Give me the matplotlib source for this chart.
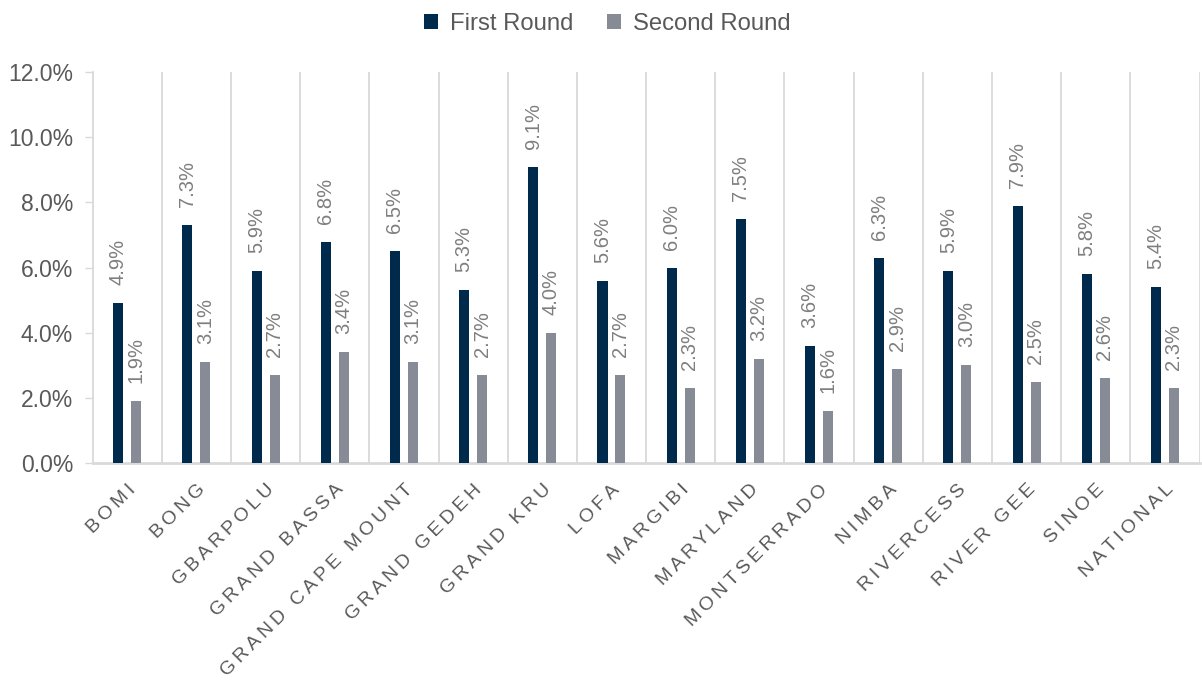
import numpy as np
import matplotlib
matplotlib.use('Agg')
from matplotlib import pyplot as plt
from matplotlib.ticker import FuncFormatter

counties = ['BOMI', 'BONG', 'GBARPOLU', 'GRAND BASSA', 'GRAND CAPE MOUNT', 'GRAND GEDEH',
            'GRAND KRU', 'LOFA', 'MARGIBI', 'MARYLAND', 'MONTSERRADO', 'NIMBA',
            'RIVERCESS', 'RIVER GEE', 'SINOE', 'NATIONAL']
first_round = [4.9, 7.3, 5.9, 6.8, 6.5, 5.3, 9.1, 5.6, 6.0, 7.5, 3.6, 6.3, 5.9, 7.9, 5.8, 5.4]
second_round = [1.9, 3.1, 2.7, 3.4, 3.1, 2.7, 4.0, 2.7, 2.3, 3.2, 1.6, 2.9, 3.0, 2.5, 2.6, 2.3]

plt.rcParams['font.family'] = ['Liberation Sans', 'DejaVu Sans']

navy = '#002a4b'
grey = '#868b96'
text_grey = '#595959'
label_grey = '#7f7f7f'
grid_grey = '#d9d9d9'

fig = plt.figure(figsize=(12.02, 6.81), dpi=100)
ax = fig.add_axes([0.077, 0.32, 0.921, 0.574])

x = np.arange(len(counties))
w = 0.145
off = 0.13
b1 = ax.bar(x - off, first_round, w, color=navy, label='First Round', zorder=3)
b2 = ax.bar(x + off, second_round, w, color=grey, label='Second Round', zorder=3)

for bars, vals in ((b1, first_round), (b2, second_round)):
    for bar, v in zip(bars, vals):
        ax.annotate('%.1f%%' % v, (bar.get_x() + bar.get_width() / 2, v),
                    xytext=(0, 13), textcoords='offset points',
                    rotation=90, ha='center', va='bottom',
                    fontsize=14.5, color=label_grey)

ax.set_xlim(-0.5, len(counties) - 0.5)
ax.set_ylim(0, 12)
ax.set_yticks(np.arange(0, 12.1, 2))
ax.yaxis.set_major_formatter(FuncFormatter(lambda v, p: '%.1f%%' % v))
ax.tick_params(axis='y', labelsize=16.5, colors=text_grey, length=6, width=1, color=grid_grey, pad=8)

# category separators
for b in np.arange(0.5, len(counties) - 0.5, 1):
    ax.axvline(b, color=grid_grey, lw=1.3, zorder=1)
ax.axvline(len(counties) - 0.5, color=grid_grey, lw=1.3, zorder=1)

ax.set_xticks(x)
spaced = ['\u2009'.join(c) for c in counties]
ax.set_xticklabels(spaced, rotation=45, ha='right', rotation_mode='anchor',
                   fontsize=14, color=text_grey)
ax.tick_params(axis='x', length=0, pad=13)

for s in ('top', 'right'):
    ax.spines[s].set_visible(False)
ax.spines['left'].set_color(grid_grey)
ax.spines['left'].set_linewidth(1.3)
ax.spines['bottom'].set_color(grid_grey)
ax.spines['bottom'].set_linewidth(2)

fig.legend(handles=[b1, b2], loc='upper center', bbox_to_anchor=(0.505, 1.012), ncol=2,
           frameon=False, fontsize=17.2, handlelength=0.6, handleheight=0.6,
           columnspacing=1.4, handletextpad=0.5, labelcolor=text_grey)

fig.savefig('out.png', dpi=100)
